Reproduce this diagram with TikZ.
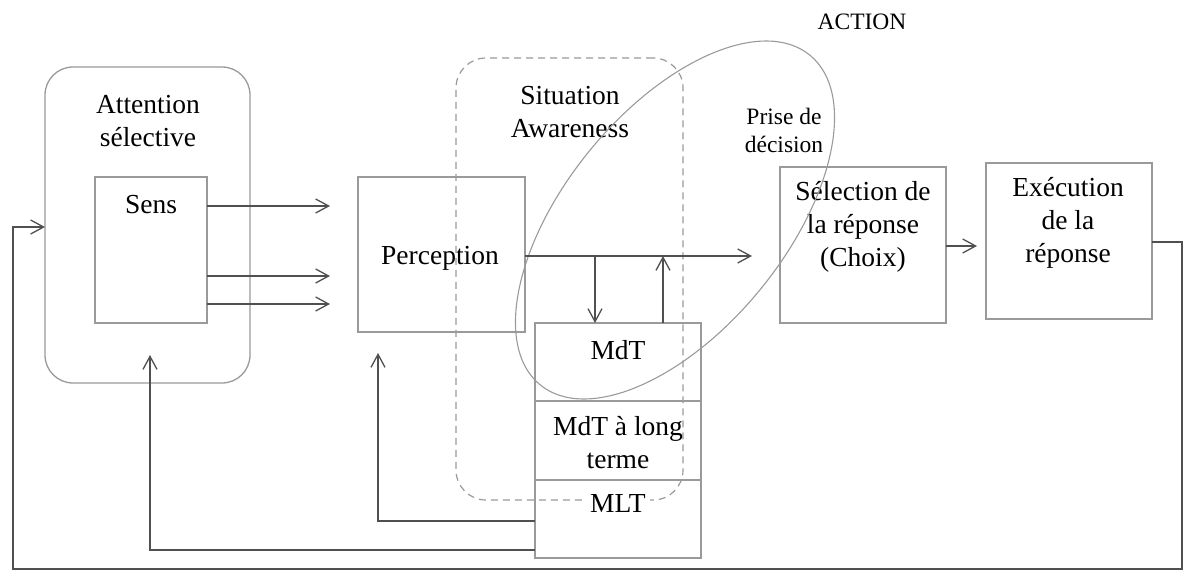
\documentclass[tikz,border=0pt]{standalone}
\usepackage{fontspec}
\setmainfont{Liberation Serif}
\usetikzlibrary{arrows.meta,calc}
\definecolor{boxgray}{HTML}{9A9A9A}
\definecolor{arrgray}{HTML}{505050}
\tikzset{
  boxshape/.style={draw=boxgray, line width=1.3pt, inner sep=0pt, outer sep=0pt},
  txt/.style={align=center, inner sep=0pt, font=\fontsize{27.5}{33}\selectfont},
  smalltxt/.style={align=center, inner sep=0pt, font=\fontsize{23.5}{28}\selectfont},
  arr/.style={draw=arrgray, line width=1.3pt, -{Straight Barb[length=13pt,width=14pt,line width=1.3pt]}},
}
\begin{document}
\begin{tikzpicture}[x=1pt,y=1pt]
\useasboundingbox (0,0) rectangle (1183,-570);
% Attention box
\node[boxshape, rounded corners=28pt, minimum width=205pt, minimum height=316pt] (attn) at (147.5,-225) {};
\node[txt] (attnT) at (148,-121) {Attention\\sélective};
% Sens
\node[boxshape, minimum width=112pt, minimum height=146pt] (sens) at (151,-250) {};
\node[txt] (sensT) at (151,-205) {Sens};
% Perception
\node[boxshape, minimum width=167pt, minimum height=155pt] (perc) at (441.5,-254.5) {};
\node[txt] (percT) at (440,-258) {Perception};
% Dashed situation awareness
\node[draw=boxgray, line width=1.2pt, dash pattern=on 7pt off 5pt, rounded corners=30pt, minimum width=227pt, minimum height=442pt, inner sep=0pt] (sa) at (569.5,-279) {};
\node[txt] (saT) at (570,-112) {Situation\\Awareness};
% Memory stack
\node[boxshape, minimum width=166pt, minimum height=78pt] (mdt) at (618,-362) {};
\node[boxshape, minimum width=166pt, minimum height=79pt] (mdtl) at (618,-440.5) {};
\node[boxshape, minimum width=166pt, minimum height=78pt] (mlt) at (618,-519) {};
\node[txt] (mdtT) at (618,-350) {MdT};
\node[txt] (mdtlT) at (618,-443) {MdT à long\\terme};
\node[txt, fill=white, inner xsep=4pt, inner ysep=1pt] (mltT) at (618,-503) {MLT};
% Selection
\node[boxshape, minimum width=166pt, minimum height=156pt] (sel) at (863,-245) {};
\node[txt] (selT) at (863,-227) {Sélection de\\la réponse\\(Choix)};
% Execution
\node[boxshape, minimum width=166pt, minimum height=156pt] (exe) at (1069,-241) {};
\node[txt] (exeT) at (1068,-223) {Exécution\\de la\\réponse};
% Labels
\node[smalltxt] (prise) at (784,-130) {Prise de\\décision};
\node[smalltxt] (action) at (862,-22) {ACTION};
% Ellipse
\draw[draw=boxgray, line width=1.1pt, rotate around={50.7:(675,-220)}] (675,-220) ellipse [x radius=213pt, y radius=110pt];
% coordinates
\coordinate (s1) at (330,-206);
\coordinate (s2) at (330,-276);
\coordinate (s3) at (330,-304);
\coordinate (pout) at (752,-256);
\coordinate (loopR) at (1182,-242);
\coordinate (loopBR) at (1182,-569);
\coordinate (loopBL) at (13,-569);
\coordinate (loopL) at (13,-227);
\coordinate (fbA) at (150,-550);
\coordinate (fbAtip) at (150,-355);
\coordinate (fbP) at (378,-521);
\coordinate (fbPtip) at (378,-353);
% Sens arrows
\draw[arr] (sens.east |- s1) -- (s1);
\draw[arr] (sens.east |- s2) -- (s2);
\draw[arr] (sens.east |- s3) -- (s3);
% Perception out
\draw[arr] (perc.east |- pout) -- (pout);
\draw[arr] (595,-256) -- (mdt.north -| 595,0);
\draw[arr] (mdt.north -| 663,0) -- (663,-256);
% Selection -> Execution
\draw[arr] (sel.east |- 0,-246) -- (977,-246);
% loop
\draw[arr] (exe.east |- loopR) -- (loopR) -- (loopBR) -- (loopBL) -- (loopL) -- (attn.west |- loopL);
% feedbacks
\draw[arr] (mlt.west |- fbA) -- (fbA) -- (fbAtip);
\draw[arr] (mlt.west |- fbP) -- (fbP) -- (fbPtip);
\end{tikzpicture}
\end{document}
